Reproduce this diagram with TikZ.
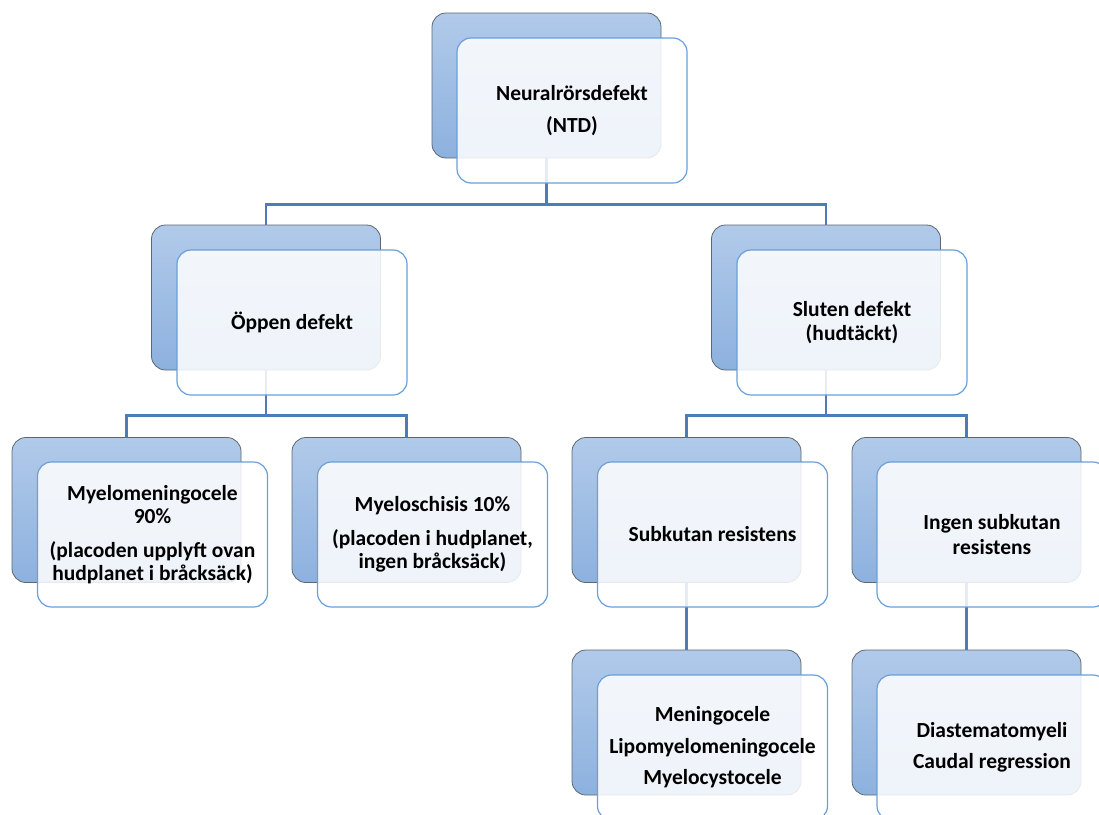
\documentclass[tikz,border=0pt]{standalone}
\usepackage{fontspec}
\setmainfont{Carlito}
\usetikzlibrary{calc}
\definecolor{backtop}{HTML}{B1CAEA}
\definecolor{backbot}{HTML}{8DB1DE}
\definecolor{backline}{HTML}{5E6670}
\definecolor{frontline}{HTML}{6A9FD8}
\definecolor{linkcol}{HTML}{4A7DB9}
\begin{document}
\begin{tikzpicture}[x=1pt, y=-1pt,
    backbox/.style={rounded corners=14pt, minimum width=229pt, minimum height=145pt, draw=backline, line width=0.8pt, top color=backtop, bottom color=backbot},
    frontbox/.style={rounded corners=14pt, minimum width=230pt, minimum height=145pt, draw=frontline, line width=1.2pt, fill=white, fill opacity=0.86, text opacity=1, align=center, font=\fontsize{21.5}{23.5}\selectfont\bfseries},
    link/.style={draw=linkcol, line width=2.8pt}]

\useasboundingbox (0,0) rectangle (1099,814);

\node[backbox] (ntdb) at (546.5,85.5) {};
\node[backbox] (oppb) at (266,297.5) {};
\node[backbox] (slub) at (826,297.5) {};
\node[backbox] (mmcb) at (126.5,510) {};
\node[backbox] (mscb) at (406.5,510) {};
\node[backbox] (subb) at (686.5,510) {};
\node[backbox] (ingb) at (966.5,510) {};
\node[backbox] (menb) at (686.5,722.5) {};
\node[backbox] (diab) at (966.5,722.5) {};

\draw[link] (ntdb.south) |- ([yshift=20pt]oppb.north) -- (oppb.north)
    (ntdb.south) |- ([yshift=20pt]slub.north) -- (slub.north);
\draw[link] (oppb.south) |- ([yshift=22pt]mmcb.north) -- (mmcb.north)
    (oppb.south) |- ([yshift=22pt]mscb.north) -- (mscb.north);
\draw[link] (slub.south) |- ([yshift=22pt]subb.north) -- (subb.north)
    (slub.south) |- ([yshift=22pt]ingb.north) -- (ingb.north);
\draw[link] (subb.south) -- (menb.north);
\draw[link] (ingb.south) -- (diab.north);

\node[frontbox] (ntd) at (572,110.5) {Neuralrörsdefekt\\[9pt](NTD)};
\node[frontbox] (opp) at (292,322.5) {Öppen defekt};
\node[frontbox] (slu) at (852,322.5) {Sluten defekt\\[1pt](hudtäckt)};
\node[frontbox] (mmc) at (152.5,534.5) {Myelomeningocele\\90\%\\[10pt](placoden upplyft ovan\\hudplanet i bråcksäck)};
\node[frontbox] (msc) at (432.5,534.5) {Myeloschisis 10\%\\[10pt](placoden i hudplanet,\\ingen bråcksäck)};
\node[frontbox] (sub) at (712.5,534.5) {Subkutan resistens};
\node[frontbox] (ing) at (992,534.5) {Ingen subkutan\\[2pt]resistens};
\node[frontbox] (men) at (712.5,747.5) {Meningocele\\[8pt]Lipomyelomeningocele\\[8pt]Myelocystocele};
\node[frontbox] (dia) at (992,747.5) {Diastematomyeli\\[8pt]Caudal regression};

\end{tikzpicture}
\end{document}
